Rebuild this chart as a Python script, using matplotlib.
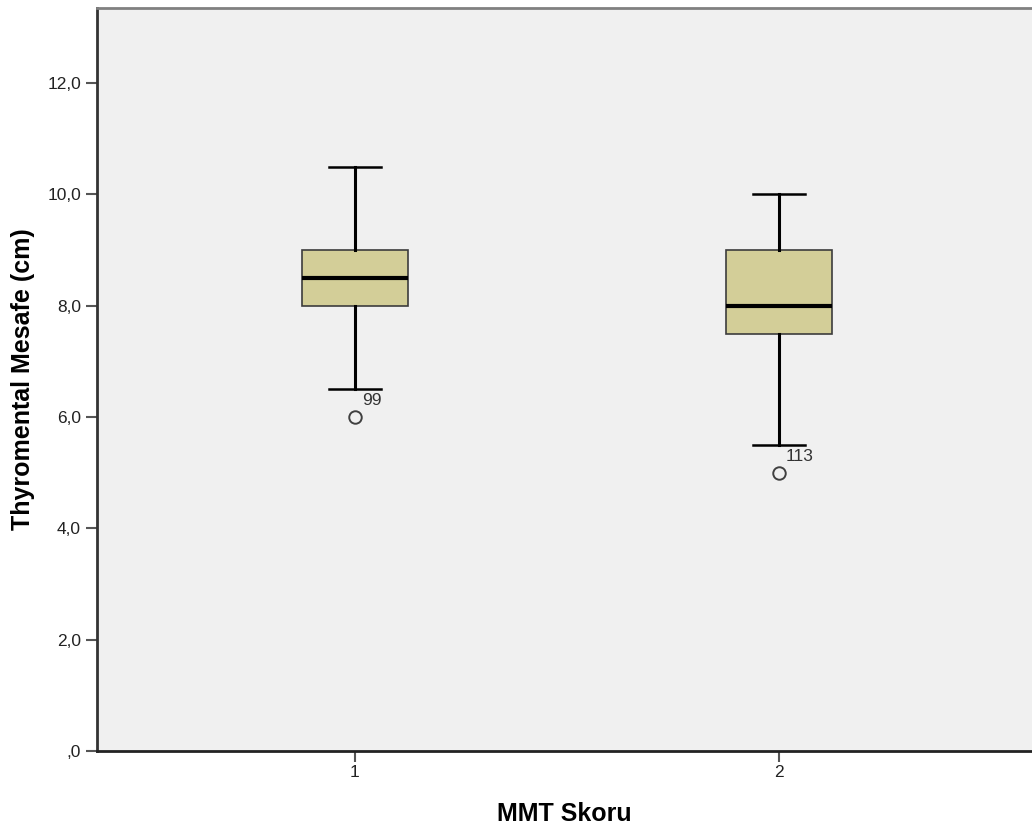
import matplotlib.pyplot as plt
from matplotlib.ticker import FuncFormatter

plt.rcParams['font.family'] = ['Liberation Sans', 'DejaVu Sans']

groups = [1, 2]
q1 = [8.0, 7.5]
med = [8.5, 8.0]
q3 = [9.0, 9.0]
whislo = [6.5, 5.5]
whishi = [10.5, 10.0]
outliers = [[6.0], [5.0]]
outlier_ids = [["99"], ["113"]]

stats = []
for i in range(len(groups)):
    stats.append({"med": med[i], "q1": q1[i], "q3": q3[i],
                  "whislo": whislo[i], "whishi": whishi[i],
                  "fliers": outliers[i], "label": str(groups[i])})

fig = plt.figure(figsize=(10.32, 8.31), dpi=100)
ax = fig.add_axes([0.094, 0.0963, 0.906, 0.894])
ax.set_facecolor("#f0f0f0")

ax.bxp(stats, positions=groups, widths=0.25, patch_artist=True,
       boxprops=dict(facecolor="#d3ce98", edgecolor="#3c3c3c", linewidth=1.2),
       medianprops=dict(color="black", linewidth=3.0),
       whiskerprops=dict(color="black", linewidth=2.2),
       capprops=dict(color="black", linewidth=1.8),
       capwidths=0.122,
       flierprops=dict(marker="o", markersize=9, markerfacecolor="none",
                       markeredgecolor="#404040", markeredgewidth=1.4))

for i, g in enumerate(groups):
    for v, lab in zip(outliers[i], outlier_ids[i]):
        ax.text(g + 0.016, v + 0.16, lab, fontsize=12.5, color="#333333",
                va="bottom", ha="left")

ax.set_xlim(0.3915, 2.597)
ax.set_ylim(0, 13.35)
ax.set_yticks([0, 2, 4, 6, 8, 10, 12])
ax.yaxis.set_major_formatter(FuncFormatter(
    lambda v, p: ",0" if v == 0 else f"{v:.1f}".replace(".", ",")))
ax.set_xticks(groups)
ax.set_xticklabels([str(g) for g in groups])
ax.tick_params(axis="both", labelsize=12.5, length=8, width=1.5, color="#555555",
               labelcolor="#222222")
ax.tick_params(axis="x", pad=2)

ax.spines["right"].set_visible(False)
ax.spines["top"].set_color("#808080")
ax.spines["top"].set_linewidth(2)
ax.spines["left"].set_color("#333333")
ax.spines["left"].set_linewidth(2)
ax.spines["bottom"].set_color("#222222")
ax.spines["bottom"].set_linewidth(2)

ax.set_xlabel("MMT Skoru", fontsize=18, fontweight="bold", labelpad=16)
ax.set_ylabel("Thyromental Mesafe (cm)", fontsize=18, fontweight="bold", labelpad=9)

fig.savefig("out.png", dpi=100)
